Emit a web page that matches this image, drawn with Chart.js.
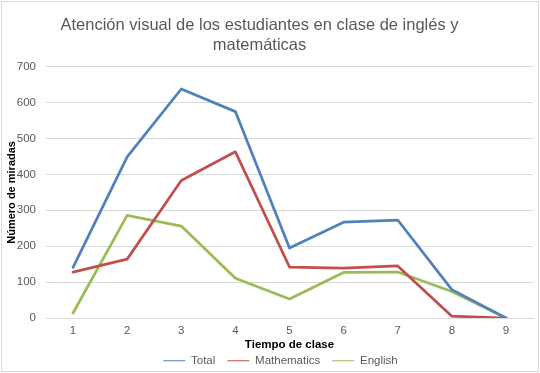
<!DOCTYPE html>
<html>
<head>
<meta charset="utf-8">
<script src="https://cdn.jsdelivr.net/npm/chart.js@4"></script>
<style>
  html, body { margin: 0; padding: 0; background: #fff; }
  #wrap {
    position: absolute; left: 1px; top: 1px;
    width: 536px; height: 369px;
    border: 1px solid #d9d9d9;
    background: #fff;
  }
</style>
</head>
<body>
<div id="wrap"><canvas id="chart" width="536" height="369"></canvas></div>
<script>
// Chart data
var tiempos = ["1", "2", "3", "4", "5", "6", "7", "8", "9"];
var total = [141, 449, 638, 575, 195, 267, 273, 79, 0];
var mathematics = [128, 164, 383, 463, 142, 139, 145, 5, 0];
var english = [14, 286, 256, 111, 53, 127, 128, 74, 0];
var yTicks = [0, 100, 200, 300, 400, 500, 600, 700];

var font = "'Liberation Sans', Arial, sans-serif";

var ctx = document.getElementById("chart");
var myChart = new Chart(ctx, {
  type: "line",
  data: {
    labels: tiempos,
    datasets: [
      { label: "Total", data: total, borderColor: "#4f81bd", backgroundColor: "#4f81bd" },
      { label: "Mathematics", data: mathematics, borderColor: "#c0504d", backgroundColor: "#c0504d" },
      { label: "English", data: english, borderColor: "#9bbb59", backgroundColor: "#9bbb59" },
    ],
  },
  options: {
    responsive: false,
    animation: false,
    events: [],
    layout: { padding: { left: 2, right: 5, top: 0, bottom: 0 } },
    elements: {
      line: { borderWidth: 2.75, tension: 0, borderCapStyle: "round", borderJoinStyle: "round" },
      point: { radius: 0 },
    },
    plugins: {
      title: {
        display: true,
        text: ["Atención visual de los estudiantes en clase de inglés y", "matemáticas"],
        color: "#595959",
        font: { family: font, size: 16.5, weight: "normal", lineHeight: 1.25 },
        padding: { top: 13, bottom: 10.5 },
      },
      legend: {
        position: "bottom",
        labels: {
          usePointStyle: true,
          pointStyle: "line",
          pointStyleWidth: 22,
          boxHeight: 3,
          color: "#595959",
          padding: 12,
          font: { family: font, size: 11.5 },
        },
      },
      tooltip: { enabled: false },
    },
    scales: {
      x: {
        offset: true,
        afterFit: function (axis) {
          axis.height = 33;
        },
        grid: { display: false, drawTicks: false },
        border: { display: true, color: "#d9d9d9", width: 1 },
        ticks: { color: "#595959", font: { family: font, size: 11.5, lineHeight: 1 }, padding: 7.5, maxRotation: 0 },
        title: {
          display: true,
          text: "Tiempo de clase",
          color: "#000",
          font: { family: font, size: 11.5, weight: "bold", lineHeight: 1 },
          padding: { top: 0, bottom: 0 },
        },
      },
      y: {
        min: 0,
        max: 700,
        afterBuildTicks: function (axis) {
          axis.ticks = yTicks.map(function (v) { return { value: v }; });
        },
        afterFit: function (axis) {
          axis.width = 42;
        },
        grid: { color: "#d9d9d9", drawTicks: false },
        border: { display: false },
        ticks: { color: "#595959", font: { family: font, size: 11.5 }, padding: 10 },
        title: {
          display: true,
          text: "Número de miradas",
          color: "#000",
          font: { family: font, size: 11, weight: "bold" },
          padding: { top: 1.5, bottom: 0 },
        },
      },
    },
  },
  plugins: [
    {
      // keep the legend short so the plot keeps its height
      id: "legendHeight",
      beforeLayout: function (chart) {
        var lg = chart.legend;
        if (lg && !lg._shortFit) {
          var fit = lg.fit;
          lg.fit = function () {
            fit.call(this);
            this.height = 20;
          };
          lg._shortFit = true;
        }
      },
    },
    {
      // nudge title left and legend like in the original picture
      id: "nudgeBoxes",
      afterLayout: function (chart) {
        if (chart.legend) {
          chart.legend.left += 12;
          chart.legend.right += 12;
          chart.legend.top -= 8;
        }
        if (chart.titleBlock) {
          chart.titleBlock.left -= 9;
          chart.titleBlock.right -= 9;
        }
      },
    },
  ],
});
</script>
</body>
</html>
